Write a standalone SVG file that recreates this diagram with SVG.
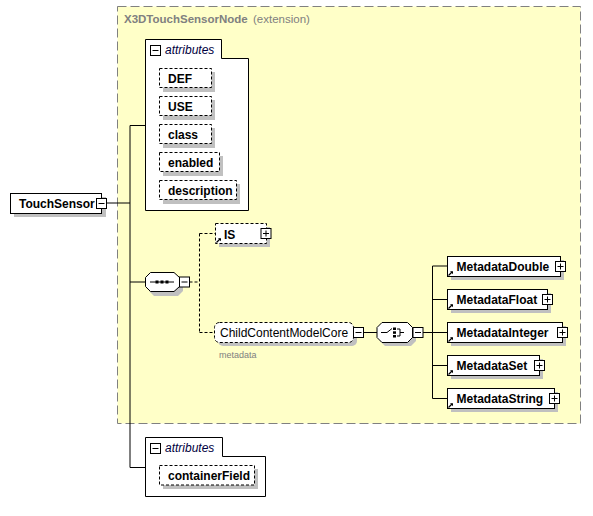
<svg xmlns="http://www.w3.org/2000/svg" width="593" height="516" viewBox="0 0 593 516">
<style>
text{font-family:"Liberation Sans",Arial,sans-serif;font-size:12px;fill:#000}
.b{font-weight:bold}
.it{font-style:italic;fill:#000040}
.sh{fill:#c0c0c0;stroke:none}
.box{fill:#fff;stroke:#000;stroke-width:1}
.dbox{fill:#fff;stroke:#000;stroke-width:1;stroke-dasharray:3,2}
.ln{fill:none;stroke:#000;stroke-width:1}
.dln{fill:none;stroke:#000;stroke-width:1;stroke-dasharray:3,2}
.pm{fill:#fff;stroke:#000;stroke-width:1}
</style>
<defs>
<g id="minus"><rect class="pm" x="0" y="0" width="10" height="10"/><path class="ln" d="M2,5H8"/></g>
<g id="plus"><rect class="pm" x="0" y="0" width="10" height="10"/><path class="ln" d="M2,5H8M5,2V8"/></g>
<g id="ref"><path d="M0.5,6.5L4,3" stroke="#000" stroke-width="1.2" fill="none"/><path d="M2,2.2L5,2.2L5,5.2Z" fill="#000"/></g>
</defs>

<g id="extension">
<rect x="117.5" y="6.5" width="463" height="417" fill="#ffffc8" stroke="#808080" stroke-width="1" stroke-dasharray="9,4"/>
<text x="124" y="23" class="b" style="fill:#808080;font-size:11.5px">X3DTouchSensorNode</text>
<text x="253" y="23" style="fill:#808080;font-size:11.5px">(extension)</text>
</g>

<g id="connectors">
<path class="ln" d="M106.5,203H130M130,125.5V467.5M130,125.5H145.5M130,282H145.5M130,467.5H145.5"/>
<path class="dln" d="M189.5,282H199.5M199.5,233.5V332.5M199.5,233.5H215M199.5,332.5H214.5"/>
<path class="ln" d="M363.5,332.5H377M423,332.5H432.5M432.5,266V398.5M432.5,266H447.5M432.5,299.5H447.5M432.5,332.5H447.5M432.5,365.5H447.5M432.5,398.5H447.5"/>
</g>

<g id="TouchSensor">
<rect class="sh" x="14" y="197" width="92" height="20"/>
<rect class="box" x="10.5" y="193.5" width="91" height="20"/>
<text x="19" y="208" class="b">TouchSensor</text>
<use href="#minus" x="96.5" y="198.5"/>
</g>

<g id="attributes1">
<path class="box" d="M145.5,39.5H221.5V58.5H248.5V210.5H145.5Z"/>
<use href="#minus" x="150.5" y="45.5"/>
<text x="165" y="54" class="it">attributes</text>
</g>
<g id="DEF">
<rect class="sh" x="163" y="72" width="52" height="20"/>
<rect class="dbox" x="159.5" y="68.5" width="52" height="19"/>
<text x="168" y="82.5" class="b">DEF</text>
</g>
<g id="USE">
<rect class="sh" x="163" y="100" width="52" height="20"/>
<rect class="dbox" x="159.5" y="96.5" width="52" height="19"/>
<text x="168" y="110.5" class="b">USE</text>
</g>
<g id="class">
<rect class="sh" x="163" y="128" width="52" height="20"/>
<rect class="dbox" x="159.5" y="124.5" width="52" height="19"/>
<text x="168" y="138.5" class="b">class</text>
</g>
<g id="enabled">
<rect class="sh" x="163" y="156" width="60" height="20"/>
<rect class="dbox" x="159.5" y="152.5" width="60" height="19"/>
<text x="168" y="166.5" class="b">enabled</text>
</g>
<g id="description">
<rect class="sh" x="163" y="184" width="77" height="20"/>
<rect class="dbox" x="159.5" y="180.5" width="77" height="19"/>
<text x="168" y="194.5" class="b">description</text>
</g>

<g id="sequence">
<polygon class="sh" points="154,276 178,276 183,281 183,291 178,296 154,296 149,291 149,281"/>
<polygon class="box" points="150.5,272.5 174,272.5 179.5,277.5 179.5,286.5 174,291.5 150.5,291.5 145.5,286.5 145.5,277.5"/>
<path class="ln" d="M150,282H174"/>
<rect x="155.5" y="280.5" width="3" height="3" fill="#000"/>
<rect x="160.5" y="280.5" width="3" height="3" fill="#000"/>
<rect x="165.5" y="280.5" width="3" height="3" fill="#000"/>
<use href="#minus" x="179.5" y="277"/>
</g>

<g id="IS">
<rect class="sh" x="219" y="227" width="51" height="20"/>
<rect class="dbox" x="215.5" y="223.5" width="51" height="20"/>
<use href="#ref" x="216" y="236"/>
<text x="224" y="238.5" class="b">IS</text>
<use href="#plus" x="261" y="228.5"/>
</g>

<g id="ChildContentModelCore">
<rect class="sh" x="218" y="326" width="139" height="20" rx="5"/>
<rect class="dbox" x="214.5" y="322.5" width="139" height="20" rx="5"/>
<text x="220" y="337">ChildContentModelCore</text>
<use href="#minus" x="353.5" y="327.5"/>
<text x="219" y="357.5" style="font-size:9px;fill:#808080">metadata</text>
</g>

<g id="choice">
<polygon class="sh" points="385,326 411,326 416,331 416,341 411,346 385,346 380,341 380,331"/>
<polygon class="box" points="382,322.5 407.5,322.5 412.5,327.5 412.5,337.5 407.5,342.5 382,342.5 377,337.5 377,327.5"/>
<path class="ln" d="M381,332.5H387L392,328.5M397,329H400V336H397M400,332.5H404"/>
<rect x="393" y="327.5" width="3" height="2.5" fill="#000"/>
<rect x="393" y="331.3" width="3" height="2.5" fill="#000"/>
<rect x="393" y="335" width="3" height="2.5" fill="#000"/>
<use href="#minus" x="413" y="327.5"/>
</g>

<g id="MetadataDouble">
<rect class="sh" x="451" y="260" width="113" height="20"/>
<rect class="box" x="447.5" y="256.5" width="113" height="20"/>
<use href="#ref" x="448" y="269"/>
<text x="456.5" y="271" class="b">MetadataDouble</text>
<use href="#plus" x="555.5" y="261.5"/>
</g>
<g id="MetadataFloat">
<rect class="sh" x="451" y="293" width="100" height="20"/>
<rect class="box" x="447.5" y="289.5" width="100" height="20"/>
<use href="#ref" x="448" y="302"/>
<text x="456.5" y="304" class="b">MetadataFloat</text>
<use href="#plus" x="542.5" y="294.5"/>
</g>
<g id="MetadataInteger">
<rect class="sh" x="451" y="326" width="115" height="20"/>
<rect class="box" x="447.5" y="322.5" width="115" height="20"/>
<use href="#ref" x="448" y="335"/>
<text x="456.5" y="337" class="b">MetadataInteger</text>
<use href="#plus" x="557.5" y="327.5"/>
</g>
<g id="MetadataSet">
<rect class="sh" x="451" y="359" width="92" height="20"/>
<rect class="box" x="447.5" y="355.5" width="92" height="20"/>
<use href="#ref" x="448" y="368"/>
<text x="456.5" y="370" class="b">MetadataSet</text>
<use href="#plus" x="534.5" y="360.5"/>
</g>
<g id="MetadataString">
<rect class="sh" x="451" y="392" width="107" height="20"/>
<rect class="box" x="447.5" y="388.5" width="107" height="20"/>
<use href="#ref" x="448" y="401"/>
<text x="456.5" y="403" class="b">MetadataString</text>
<use href="#plus" x="549.5" y="393.5"/>
</g>

<g id="attributes2">
<path class="box" d="M145.5,437.5H222.5V456.5H265.5V496.5H145.5Z"/>
<use href="#minus" x="150.5" y="443.5"/>
<text x="165" y="452" class="it">attributes</text>
</g>
<g id="containerField">
<rect class="sh" x="163" y="469" width="95" height="20"/>
<rect class="dbox" x="159.5" y="465.5" width="95" height="19.5"/>
<text x="168" y="480" class="b">containerField</text>
</g>
</svg>
